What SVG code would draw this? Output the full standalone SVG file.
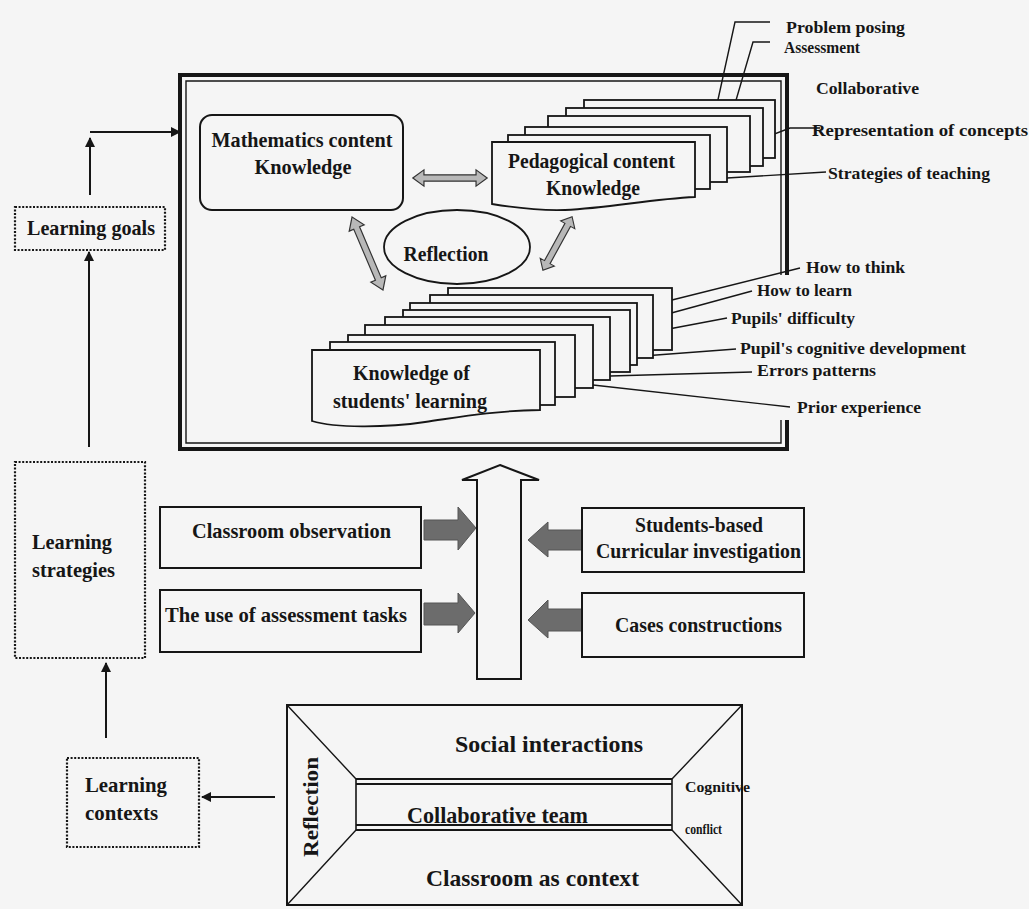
<svg xmlns="http://www.w3.org/2000/svg" width="1029" height="909" viewBox="0 0 1029 909">
<defs>
<style>
text{font-family:"Liberation Serif","Times New Roman",serif;font-weight:bold;fill:#161616}
.t20{font-size:21px}
.t17{font-size:17.5px}
.t14{font-size:15px}
.box{fill:#f5f5f5;stroke:#161616;stroke-width:2}
.card{fill:#f5f5f5;stroke:#161616;stroke-width:1.8}
.dot{fill:none;stroke:#161616;stroke-width:2.2;stroke-dasharray:2 1.6}
.ln{fill:none;stroke:#161616;stroke-width:1.4}
.ar{fill:none;stroke:#161616;stroke-width:2}
.dbl{fill:#b8b8b8;stroke:#333;stroke-width:1.3}
.blk{fill:#6c6c6c;stroke:#555;stroke-width:1}
</style>
<marker id="ah" viewBox="0 0 10 10" refX="9" refY="5" markerWidth="5" markerHeight="5" orient="auto-start-reverse">
<path d="M0,0 L10,5 L0,10 Z" fill="#161616"/>
</marker>
<polygon id="dblarrow" points="-40,0 -28,-9 -28,-3.5 28,-3.5 28,-9 40,0 28,9 28,3.5 -28,3.5 -28,9"/>
</defs>
<rect x="0" y="0" width="1029" height="909" fill="#f5f5f5"/>

<g id="main-frame">
<path d="M787,275 V75 H180 V449 H787 V420" fill="none" stroke="#161616" stroke-width="4"/>
<path d="M781,275 V81 H186 V443 H781 V420" fill="none" stroke="#161616" stroke-width="1.4"/>
</g>

<g id="connectors">
<line class="ar" x1="90" y1="195" x2="90" y2="138" marker-end="url(#ah)"/>
<line class="ar" x1="90" y1="132" x2="180" y2="132" marker-end="url(#ah)"/>
<line class="ar" x1="89" y1="447" x2="89" y2="252" marker-end="url(#ah)"/>
<line class="ar" x1="106" y1="738" x2="106" y2="663" marker-end="url(#ah)"/>
<line class="ar" x1="275" y1="797" x2="202" y2="797" marker-end="url(#ah)"/>
<use href="#dblarrow" class="dbl" transform="translate(450,178) scale(0.93,0.9)"/>
<use href="#dblarrow" class="dbl" transform="translate(367.5,253.5) rotate(67) scale(0.99,0.9)"/>
<use href="#dblarrow" class="dbl" transform="translate(557.5,243.5) rotate(118.7) scale(0.76,0.9)"/>
<polygon class="blk" points="424,520 458,520 458,507 476,528 458,550 458,540 424,540"/>
<polygon class="blk" points="424,603 458,603 458,593 475,613 458,633 458,625 424,625"/>
<polygon class="blk" points="582,530 548,530 548,522 528,540 548,557 548,550 582,550"/>
<polygon class="blk" points="582,609 548,609 548,600 528,620 548,638 548,631 582,631"/>
<polygon points="500,465 539,480 521,480 521,679 477,679 477,480 462,480" fill="#f5f5f5" stroke="#161616" stroke-width="2"/>
<path class="ln" d="M770,22 H735 L712,127"/>
<path class="ln" d="M770,42 H753 L725,138"/>
<path class="ln" d="M820,128 H790 L727,152"/>
<path class="ln" d="M826,172 L727,178"/>
<path class="ln" d="M800,268 L672,300"/>
<path class="ln" d="M752,291 L653,318"/>
<path class="ln" d="M727,318 L637,335"/>
<path class="ln" d="M736,349 L630,357"/>
<path class="ln" d="M752,372 L610,376"/>
<path class="ln" d="M790,407 L593,385"/>
</g>

<g id="math-content-knowledge">
<rect class="box" x="200" y="115" width="203" height="95" rx="12"/>
<text class="t20" x="302" y="147" text-anchor="middle" textLength="181" lengthAdjust="spacingAndGlyphs">Mathematics content</text>
<text class="t20" x="303" y="174" text-anchor="middle" textLength="97" lengthAdjust="spacingAndGlyphs">Knowledge</text>
</g>

<g id="pedagogical-content-knowledge">
<rect class="card" x="584" y="100" width="191" height="58"/>
<rect class="card" x="566" y="108" width="197" height="58"/>
<rect class="card" x="548" y="116" width="202" height="56"/>
<rect class="card" x="525" y="127" width="202" height="55"/>
<rect class="card" x="508" y="135" width="202" height="54"/>
<path class="card" d="M492,142 H695 V197 C650,199 610,208 565,210 C535,211 510,207 492,204 Z"/>
<text class="t20" x="508" y="168" textLength="167" lengthAdjust="spacingAndGlyphs">Pedagogical content</text>
<text class="t20" x="593" y="195" text-anchor="middle" textLength="94" lengthAdjust="spacingAndGlyphs">Knowledge</text>
</g>

<g id="reflection-center">
<ellipse cx="457" cy="247" rx="73" ry="37" fill="none" stroke="#161616" stroke-width="1.8"/>
<text class="t20" x="446" y="261" text-anchor="middle" textLength="85" lengthAdjust="spacingAndGlyphs">Reflection</text>
</g>

<g id="knowledge-students-learning">
<rect class="card" x="448" y="288" width="224" height="62"/>
<rect class="card" x="430" y="295" width="223" height="63"/>
<rect class="card" x="410" y="303" width="227" height="62"/>
<rect class="card" x="403" y="310" width="227" height="62"/>
<rect class="card" x="385" y="317" width="225" height="63"/>
<rect class="card" x="365" y="325" width="228" height="63"/>
<rect class="card" x="348" y="335" width="227" height="62"/>
<rect class="card" x="330" y="342" width="225" height="63"/>
<path class="card" d="M312,350 H540 V410 C490,411 460,417 425,422 C385,428 335,428 312,421 Z"/>
<text class="t20" x="353" y="380" textLength="117" lengthAdjust="spacingAndGlyphs">Knowledge of</text>
<text class="t20" x="333" y="408" textLength="154" lengthAdjust="spacingAndGlyphs">students' learning</text>
</g>

<g id="pck-labels">
<text class="t17" x="786" y="33" textLength="119" lengthAdjust="spacingAndGlyphs">Problem posing</text>
<text class="t17" x="784" y="53" textLength="76" lengthAdjust="spacingAndGlyphs">Assessment</text>
<text class="t17" x="816" y="94" textLength="103" lengthAdjust="spacingAndGlyphs" font-weight="normal">Collaborative</text>
<text class="t17" x="812" y="136" textLength="216" lengthAdjust="spacingAndGlyphs" font-weight="normal">Representation of concepts</text>
<text class="t17" x="828" y="179" textLength="162" lengthAdjust="spacingAndGlyphs" font-weight="normal">Strategies of teaching</text>
</g>

<g id="ksl-labels">
<text class="t17" x="806" y="273" textLength="99" lengthAdjust="spacingAndGlyphs">How to think</text>
<text class="t17" x="757" y="296" textLength="95" lengthAdjust="spacingAndGlyphs">How to learn</text>
<text class="t17" x="731" y="324" textLength="124" lengthAdjust="spacingAndGlyphs">Pupils' difficulty</text>
<text class="t17" x="740" y="354" textLength="226" lengthAdjust="spacingAndGlyphs">Pupil's cognitive development</text>
<text class="t17" x="757" y="376" textLength="119" lengthAdjust="spacingAndGlyphs">Errors patterns</text>
<text class="t17" x="797" y="413" textLength="124" lengthAdjust="spacingAndGlyphs">Prior experience</text>
</g>

<g id="learning-goals">
<rect class="dot" x="15" y="207" width="150" height="43"/>
<text class="t20" x="27" y="235" textLength="128" lengthAdjust="spacingAndGlyphs">Learning goals</text>
</g>

<g id="learning-strategies">
<rect class="dot" x="15" y="462" width="130" height="196"/>
<text class="t20" x="32" y="549" textLength="80" lengthAdjust="spacingAndGlyphs">Learning</text>
<text class="t20" x="32" y="577" textLength="83" lengthAdjust="spacingAndGlyphs">strategies</text>
</g>

<g id="learning-contexts">
<rect class="dot" x="67" y="758" width="132" height="89"/>
<text class="t20" x="85" y="792" textLength="82" lengthAdjust="spacingAndGlyphs">Learning</text>
<text class="t20" x="85" y="820" textLength="73" lengthAdjust="spacingAndGlyphs">contexts</text>
</g>

<g id="classroom-observation">
<rect class="box" x="160" y="507" width="261" height="61"/>
<text class="t20" x="192" y="538" textLength="199" lengthAdjust="spacingAndGlyphs">Classroom observation</text>
</g>

<g id="assessment-tasks">
<rect class="box" x="160" y="590" width="261" height="62"/>
<text class="t20" x="165" y="622" textLength="242" lengthAdjust="spacingAndGlyphs">The use of assessment tasks</text>
</g>

<g id="curricular-investigation">
<rect class="box" x="582" y="508" width="222" height="64"/>
<text class="t20" x="635" y="532" textLength="128" lengthAdjust="spacingAndGlyphs">Students-based</text>
<text class="t20" x="596" y="558" textLength="205" lengthAdjust="spacingAndGlyphs">Curricular investigation</text>
</g>

<g id="cases-constructions">
<rect class="box" x="582" y="593" width="222" height="64"/>
<text class="t20" x="615" y="632" textLength="167" lengthAdjust="spacingAndGlyphs">Cases constructions</text>
</g>

<g id="classroom-context">
<rect x="287" y="705" width="455" height="200" fill="none" stroke="#161616" stroke-width="2"/>
<path class="ln" d="M287,705 L356,779 M742,705 L672,779 M287,905 L356,830 M742,905 L672,830" stroke-width="1.6"/>
<path d="M356,779 H672 M356,784 H672 M356,825 H672 M356,830 H672" fill="none" stroke="#161616" stroke-width="1.8"/>
<path d="M356,779 V830 M672,779 V830" fill="none" stroke="#161616" stroke-width="1.6"/>
<text class="t20" x="455" y="752" textLength="188" lengthAdjust="spacingAndGlyphs" style="font-size:23px">Social interactions</text>
<text class="t20" x="407" y="823" textLength="181" lengthAdjust="spacingAndGlyphs" style="font-size:23px">Collaborative team</text>
<text class="t20" x="426" y="886" textLength="213" lengthAdjust="spacingAndGlyphs" style="font-size:23px">Classroom as context</text>
<text class="t20" transform="translate(318,807) rotate(-90)" x="0" y="0" text-anchor="middle" textLength="100" lengthAdjust="spacingAndGlyphs">Reflection</text>
<text class="t14" x="685" y="792" textLength="65" lengthAdjust="spacingAndGlyphs">Cognitive</text>
<text class="t14" x="685" y="834" textLength="37" lengthAdjust="spacingAndGlyphs">conflict</text>
</g>
</svg>
